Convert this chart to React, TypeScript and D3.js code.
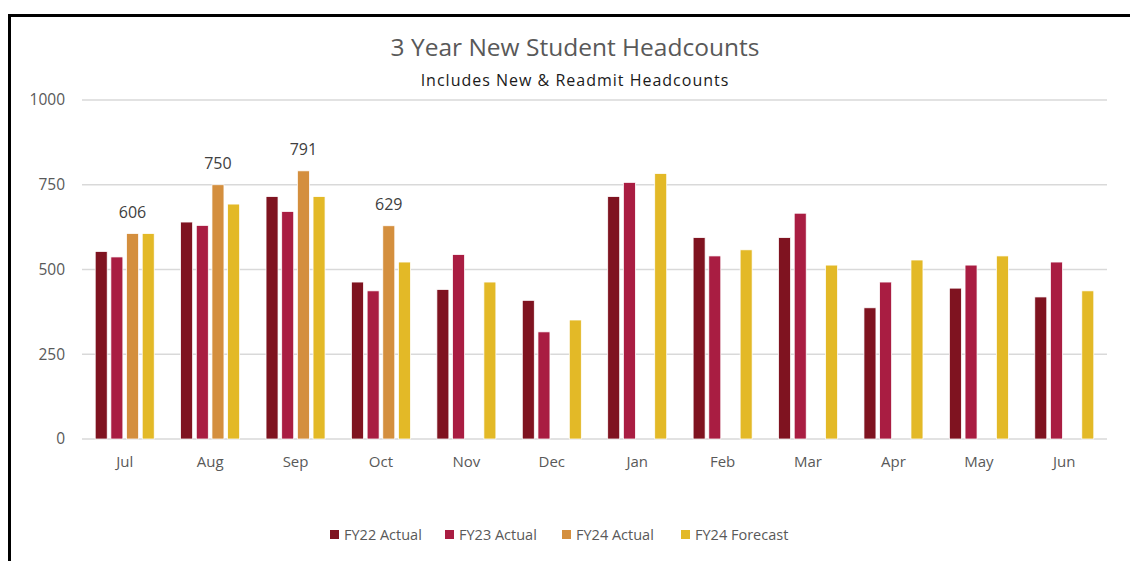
import React, { useEffect, useRef } from "react";
import * as d3 from "d3";

const months = ["Jul", "Aug", "Sep", "Oct", "Nov", "Dec", "Jan", "Feb", "Mar", "Apr", "May", "Jun"];
const seriesNames = ["FY22 Actual", "FY23 Actual", "FY24 Actual", "FY24 Forecast"];
const fy22Actual = [553, 640, 715, 463, 441, 409, 715, 594, 594, 387, 445, 419];
const fy23Actual = [537, 630, 671, 437, 544, 316, 757, 540, 666, 463, 513, 522];
const fy24Actual = [606, 750, 791, 629, null, null, null, null, null, null, null, null];
const fy24Forecast = [606, 693, 715, 522, 463, 351, 783, 558, 513, 528, 540, 437];
const yTicks = [0, 250, 500, 750, 1000];
const colors = ["#7f1320", "#a91d42", "#d48f3e", "#e3b927"];

const FONT = "'Open Sans', sans-serif";

export default function App() {
  const ref = useRef<SVGSVGElement>(null);

  useEffect(() => {
    const svg = d3.select(ref.current);
    svg.selectAll("*").remove();

    const width = 1130, height = 561;
    const margin = { top: 100, right: 23, bottom: 122, left: 82 };

    // frame (left + top lines only)
    svg.append("path")
      .attr("d", `M9.5,561 V15.5 H1130`)
      .attr("fill", "none")
      .attr("stroke", "#000")
      .attr("stroke-width", 3);

    svg.append("text")
      .attr("x", 575).attr("y", 56)
      .attr("text-anchor", "middle")
      .attr("font-family", FONT).attr("font-size", 24.5)
      .attr("fill", "#595959")
      .text("3 Year New Student Headcounts");

    svg.append("text")
      .attr("x", 575).attr("y", 86)
      .attr("text-anchor", "middle")
      .attr("font-family", FONT).attr("font-size", 16)
      .attr("letter-spacing", 1)
      .attr("fill", "#1a1a1a")
      .text("Includes New & Readmit Headcounts");

    const x0 = d3.scaleBand()
      .domain(months)
      .range([margin.left, width - margin.right])
      .padding(0);

    const pad = (x0.bandwidth() - 59) / 2;
    const x1 = d3.scaleBand()
      .domain(seriesNames)
      .range([pad, x0.bandwidth() - pad])
      .paddingInner(0.235)
      .paddingOuter(0);

    const y = d3.scaleLinear()
      .domain([0, 1000])
      .range([height - margin.bottom, margin.top]);

    // gridlines
    svg.append("g")
      .selectAll("line")
      .data(yTicks)
      .join("line")
      .attr("x1", margin.left).attr("x2", width - margin.right)
      .attr("y1", d => y(d)).attr("y2", d => y(d))
      .attr("stroke", "#d9d9d9").attr("stroke-width", 1.5);

    // y labels
    svg.append("g")
      .selectAll("text")
      .data(yTicks)
      .join("text")
      .attr("x", 65).attr("y", d => y(d))
      .attr("dy", "0.35em")
      .attr("text-anchor", "end")
      .attr("font-family", FONT).attr("font-size", 15.5)
      .attr("fill", "#595959")
      .text(d => d);

    // x labels
    svg.append("g")
      .selectAll("text")
      .data(months)
      .join("text")
      .attr("x", d => x0(d)! + x0.bandwidth() / 2)
      .attr("y", height - margin.bottom + 28)
      .attr("text-anchor", "middle")
      .attr("font-family", FONT).attr("font-size", 15)
      .attr("fill", "#595959")
      .text(d => d);

    const series = [fy22Actual, fy23Actual, fy24Actual, fy24Forecast];
    const rows = months.flatMap((m, i) =>
      series.map((s, j) => ({ month: m, key: seriesNames[j], value: s[i], color: colors[j] }))
    ).filter(d => d.value != null);

    svg.append("g")
      .selectAll("rect")
      .data(rows)
      .join("rect")
      .attr("x", d => x0(d.month)! + x1(d.key)!)
      .attr("y", d => y(d.value as number))
      .attr("width", x1.bandwidth())
      .attr("height", d => y(0) - y(d.value as number))
      .attr("fill", d => d.color)
      .attr("stroke", "#fff")
      .attr("stroke-width", 0.75);

    // data labels on FY24 Actual
    svg.append("g")
      .selectAll("text")
      .data(rows.filter(d => d.key === "FY24 Actual"))
      .join("text")
      .attr("x", d => x0(d.month)! + x1(d.key)! + x1.bandwidth() / 2)
      .attr("y", d => y(d.value as number) - 16)
      .attr("text-anchor", "middle")
      .attr("font-family", FONT).attr("font-size", 16)
      .attr("fill", "#404040")
      .text(d => d.value as number);

    // legend
    const legendX = [330, 445, 562, 681];
    const lg = svg.append("g")
      .selectAll("g")
      .data(seriesNames)
      .join("g")
      .attr("transform", (d, i) => `translate(${legendX[i]},535)`);
    lg.append("rect")
      .attr("x", 0).attr("y", -5).attr("width", 9).attr("height", 9)
      .attr("fill", (d, i) => colors[i]);
    lg.append("text")
      .attr("x", 14).attr("y", 0).attr("dy", "0.35em")
      .attr("font-family", FONT).attr("font-size", 14.5)
      .attr("fill", "#595959")
      .text(d => d);
  }, []);

  return (
    <svg ref={ref} width={1130} height={561}
      style={{ position: "absolute", left: 0, top: 0, background: "#fff" }} />
  );
}
